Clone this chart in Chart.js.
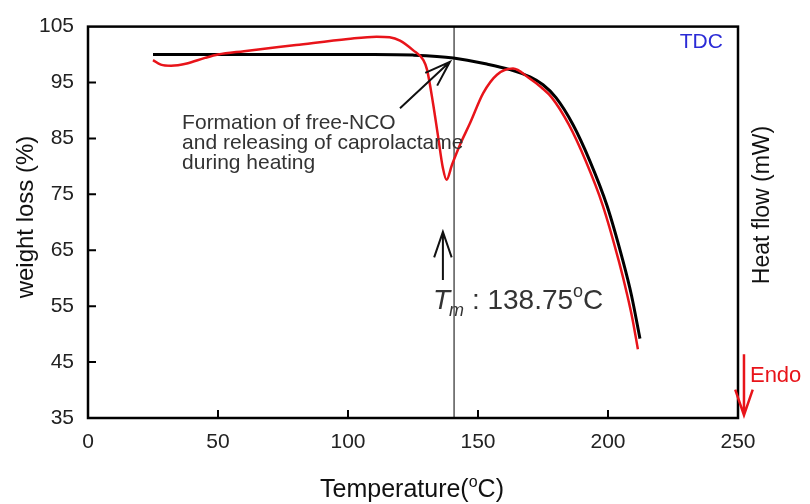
<!DOCTYPE html>
<html>
<head>
<meta charset="utf-8">
<script src="https://cdn.jsdelivr.net/npm/chart.js@4.4.0/dist/chart.umd.min.js"></script>
<style>
    body { margin: 0; background: #fff; }
    #wrap { width: 810px; height: 504px; }
</style>
</head>
<body>
<div id="wrap"><canvas id="tgaChart" width="810" height="504"></canvas></div>
<script>
// TGA curve (black) - weight loss %
const tempBlack = [25, 50, 80, 110, 125, 140.5, 153.4, 162.3, 170, 175, 180, 186.5, 193, 199.6, 205.8, 209, 212.3];
const weightBlack = [100, 100, 100, 100, 99.9, 99.4, 98.3, 97.3, 96, 94.6, 92.3, 87.5, 81, 73, 63, 57, 49.2];

// DSC curve (red) - heat flow, drawn on the same scale
const tempRed = [25, 28, 32, 38, 45, 50, 60, 80, 100, 111, 116, 120, 125, 129, 130.4, 132.7, 134.6, 136.5, 137.9, 140, 143, 147, 152, 157.3, 163.5, 169.6, 174.4, 178.4, 184.9, 191.4, 198, 204.2, 207.4, 209.5, 211.5];
const heatRed = [99, 98.2, 98, 98.4, 99.4, 100, 100.6, 101.7, 102.8, 103.2, 103.1, 102.5, 100.8, 99, 97.3, 91.3, 85.5, 79.7, 77.6, 80.3, 83.8, 87.8, 93.1, 96.4, 97.5, 95.8, 94.1, 92.3, 87.5, 81, 73, 63, 57, 52.5, 47.3];

// Tm marker line
const tmLineX = [140.8, 140.8];
const tmLineY = [35, 105];

// axis ticks
const xTicks = [0, 50, 100, 150, 200, 250];
const yTicks = [35, 45, 55, 65, 75, 85, 95, 105];

const FONT = "'Liberation Sans', Arial, sans-serif";

function pts(xs, ys) {
    return xs.map((v, i) => ({ x: v, y: ys[i] }));
}

function arrow(ctx, x1, y1, x2, y2, color, width) {
    const ang = Math.atan2(y2 - y1, x2 - x1);
    const len = 27, spread = 0.33;
    ctx.strokeStyle = color;
    ctx.lineWidth = width;
    ctx.beginPath();
    ctx.moveTo(x1, y1);
    ctx.lineTo(x2, y2);
    ctx.moveTo(x2 - len * Math.cos(ang - spread), y2 - len * Math.sin(ang - spread));
    ctx.lineTo(x2, y2);
    ctx.lineTo(x2 - len * Math.cos(ang + spread), y2 - len * Math.sin(ang + spread));
    ctx.stroke();
}

const decorations = {
    id: 'decorations',
    afterDraw(chart) {
        const { ctx, chartArea: a, scales: { x, y } } = chart;
        ctx.save();

        // frame
        ctx.strokeStyle = '#000';
        ctx.lineWidth = 2.5;
        ctx.strokeRect(a.left, a.top, a.right - a.left, a.bottom - a.top);

        // inward ticks
        ctx.lineWidth = 2;
        ctx.beginPath();
        yTicks.slice(1, -1).forEach(v => {
            const py = y.getPixelForValue(v);
            ctx.moveTo(a.left, py);
            ctx.lineTo(a.left + 8, py);
        });
        xTicks.slice(1, -1).forEach(v => {
            const px = x.getPixelForValue(v);
            ctx.moveTo(px, a.bottom);
            ctx.lineTo(px, a.bottom - 8);
        });
        ctx.stroke();

        // axis titles
        ctx.fillStyle = '#111';
        ctx.textAlign = 'center';
        ctx.textBaseline = 'middle';
        ctx.font = `24px ${FONT}`;
        ctx.save();
        ctx.translate(26, 217);
        ctx.rotate(-Math.PI / 2);
        ctx.fillText('weight loss (%)', 0, 0);
        ctx.restore();
        ctx.save();
        ctx.translate(763, 205);
        ctx.rotate(-Math.PI / 2);
        ctx.font = `23px ${FONT}`;
        ctx.fillText('Heat flow (mW)', 0, 0);
        ctx.restore();

        // x title with superscript
        ctx.textAlign = 'left';
        ctx.textBaseline = 'alphabetic';
        ctx.font = `25px ${FONT}`;
        const t1 = 'Temperature(';
        const w1 = ctx.measureText(t1).width;
        ctx.font = `16px ${FONT}`;
        const w2 = ctx.measureText('o').width;
        ctx.font = `25px ${FONT}`;
        const w3 = ctx.measureText('C)').width;
        let tx = 412 - (w1 + w2 + w3) / 2;
        const ty = 497;
        ctx.fillText(t1, tx, ty);
        tx += w1;
        ctx.font = `16px ${FONT}`;
        ctx.fillText('o', tx, ty - 10);
        tx += w2;
        ctx.font = `25px ${FONT}`;
        ctx.fillText('C)', tx, ty);

        // TDC label
        ctx.fillStyle = '#2b2bd6';
        ctx.font = `21px ${FONT}`;
        ctx.textAlign = 'right';
        ctx.textBaseline = 'middle';
        ctx.fillText('TDC', x.getPixelForValue(244.2), y.getPixelForValue(102.2));

        // note on caprolactame release
        ctx.fillStyle = '#333';
        ctx.font = `21px ${FONT}`;
        ctx.textAlign = 'left';
        const noteX = x.getPixelForValue(36.2);
        ctx.fillText('Formation of free-NCO', noteX, y.getPixelForValue(87.8));
        ctx.fillText('and releasing of caprolactame', noteX, y.getPixelForValue(84.1));
        ctx.fillText('during heating', noteX, y.getPixelForValue(80.6));
        arrow(ctx, x.getPixelForValue(120), y.getPixelForValue(90.4),
            x.getPixelForValue(139.2), y.getPixelForValue(98.7), '#111', 2);

        // Tm arrow and label
        arrow(ctx, x.getPixelForValue(136.5), y.getPixelForValue(59.7),
            x.getPixelForValue(136.5), y.getPixelForValue(68.3), '#111', 2);
        ctx.fillStyle = '#333';
        ctx.textBaseline = 'alphabetic';
        let lx = x.getPixelForValue(132.7);
        const ly = y.getPixelForValue(54.5);
        ctx.font = `italic 28px ${FONT}`;
        ctx.fillText('T', lx, ly);
        lx += ctx.measureText('T').width - 1;
        ctx.font = `italic 18px ${FONT}`;
        ctx.fillText('m', lx, ly + 7);
        lx += ctx.measureText('m').width;
        ctx.font = `28px ${FONT}`;
        ctx.fillText(' : 138.75', lx, ly);
        lx += ctx.measureText(' : 138.75').width;
        ctx.font = `18px ${FONT}`;
        ctx.fillText('o', lx, ly - 12);
        lx += ctx.measureText('o').width;
        ctx.font = `28px ${FONT}`;
        ctx.fillText('C', lx, ly);

        // Endo arrow
        arrow(ctx, x.getPixelForValue(252.3), y.getPixelForValue(46.4),
            x.getPixelForValue(252.3), y.getPixelForValue(35.5), '#e8141a', 2.5);
        ctx.fillStyle = '#e8141a';
        ctx.font = `22px ${FONT}`;
        ctx.textBaseline = 'middle';
        ctx.fillText('Endo', x.getPixelForValue(254.6), y.getPixelForValue(42.5));

        ctx.restore();
    }
};

new Chart(document.getElementById('tgaChart'), {
    type: 'scatter',
    data: {
        datasets: [
            {
                label: 'Heat flow',
                data: pts(tempRed, heatRed),
                showLine: true,
                borderColor: '#e8141a',
                borderWidth: 2.5,
                pointRadius: 0,
                cubicInterpolationMode: 'monotone'
            },
            {
                label: 'Weight loss',
                data: pts(tempBlack, weightBlack),
                showLine: true,
                borderColor: '#000',
                borderWidth: 3,
                pointRadius: 0,
                cubicInterpolationMode: 'monotone'
            },
            {
                label: 'Tm',
                data: pts(tmLineX, tmLineY),
                showLine: true,
                borderColor: '#555',
                borderWidth: 1.5,
                pointRadius: 0
            }
        ]
    },
    options: {
        responsive: false,
        devicePixelRatio: 1,
        animation: false,
        layout: { padding: { top: 19, right: 72, left: 0, bottom: 0 } },
        plugins: { legend: { display: false }, tooltip: { enabled: false } },
        scales: {
            x: {
                type: 'linear',
                min: 0,
                max: 250,
                afterBuildTicks: (s) => { s.ticks = xTicks.map(v => ({ value: v })); },
                afterFit: (s) => { s.height = 86; },
                grid: { display: false, drawTicks: false },
                border: { display: false },
                ticks: { padding: 12, color: '#222', font: { family: FONT, size: 21 }, maxRotation: 0 }
            },
            y: {
                type: 'linear',
                min: 35,
                max: 105,
                afterBuildTicks: (s) => { s.ticks = yTicks.map(v => ({ value: v })); },
                afterFit: (s) => { s.width = 88; },
                grid: { display: false, drawTicks: false },
                border: { display: false },
                ticks: { padding: 14, color: '#222', font: { family: FONT, size: 21 } }
            }
        }
    },
    plugins: [decorations]
});
</script>
</body>
</html>
